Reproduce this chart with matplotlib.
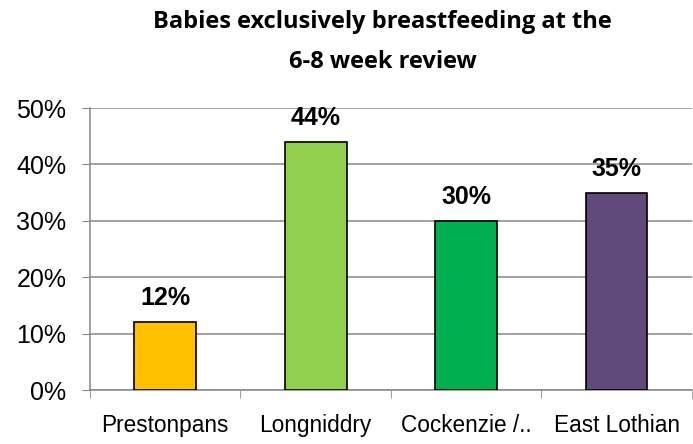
import matplotlib
matplotlib.use('Agg')
import matplotlib.pyplot as plt
import numpy as np

# chart data
areas = ['Prestonpans', 'Longniddry', 'Cockenzie /..', 'East Lothian']
pct = [0.12, 0.44, 0.30, 0.35]
bar_colors = ['#FFC000', '#92D050', '#00B050', '#604A7B']
yticks = [0, 0.1, 0.2, 0.3, 0.4, 0.5]

plt.rcParams['font.family'] = ['Liberation Sans', 'DejaVu Sans']

fig = plt.figure(figsize=(6.93, 4.44), dpi=100)
ax = fig.add_axes([0.1299, 0.1216, 0.8683, 0.6351])

x = np.arange(len(areas))
ax.bar(x, pct, width=0.41, color=bar_colors, edgecolor='black', linewidth=1.2, zorder=3)

# value labels above the bars
for xi, v in zip(x, pct):
    ax.text(xi, v + 0.03, '{:.0f}%'.format(v * 100), ha='center', va='baseline',
            fontsize=18, fontweight='bold')

ax.set_xlim(-0.5, len(areas) - 0.5)
ax.set_ylim(0, 0.5)
ax.set_yticks(yticks)
ax.set_yticklabels(['{:.0f}%'.format(t * 100) for t in yticks], fontsize=18)
ax.yaxis.grid(True, color='#888888', linewidth=1.1, zorder=0)
ax.tick_params(axis='y', length=6, color='#888888', pad=11)

ax.set_xticks(x)
ax.set_xticklabels(areas, fontsize=16.3)
ax.tick_params(axis='x', which='major', length=0, pad=17.5)
ax.set_xticks(np.arange(-0.5, len(areas)), minor=True)
ax.tick_params(axis='x', which='minor', length=6, color='#888888')

for s in ['top', 'right']:
    ax.spines[s].set_visible(False)
for s in ['left', 'bottom']:
    ax.spines[s].set_color('#888888')
    ax.spines[s].set_linewidth(1.1)

fig.text(0.552, 0.937, 'Babies exclusively breastfeeding at the', ha='center', va='baseline',
         fontsize=17, fontweight='bold', family=['Open Sans', 'DejaVu Sans'])
fig.text(0.552, 0.847, '6-8 week review', ha='center', va='baseline',
         fontsize=17, fontweight='bold', family=['Open Sans', 'DejaVu Sans'])

fig.savefig('out.png', dpi=100)
